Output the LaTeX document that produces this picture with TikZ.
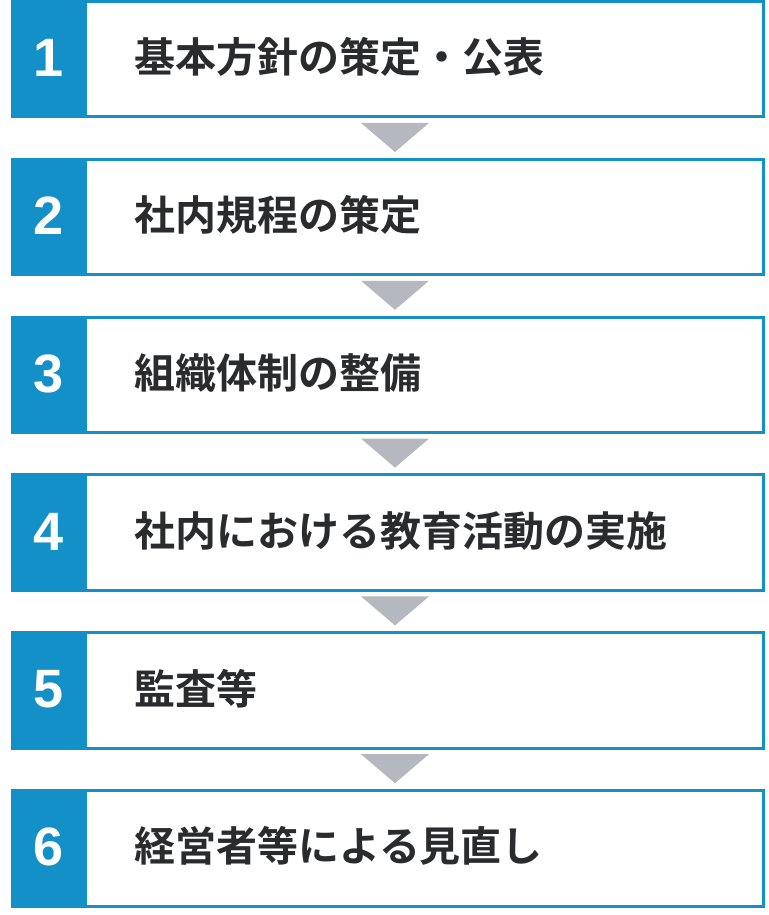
\documentclass[tikz,border=0pt]{standalone}
\usepackage{fontspec}
\newfontfamily\jpfont{Noto Sans CJK JP}[BoldFont={* Bold}]
\newfontfamily\numfont{Liberation Sans}
\definecolor{stepblue}{HTML}{1490C8}
\definecolor{arrgray}{HTML}{B5B9BF}
\definecolor{txt}{HTML}{2A2B2D}
\begin{document}
\begin{tikzpicture}[x=1pt,y=-1pt,
  frame/.style={draw=stepblue,line width=3pt,fill=white},
  numbox/.style={fill=stepblue},
  numtext/.style={text=white,font=\numfont\bfseries\fontsize{54}{56}\selectfont,anchor=center,inner sep=0pt},
  label/.style={text=txt,font=\jpfont\bfseries\fontsize{41}{44}\selectfont,anchor=west,inner sep=0pt},
  arrowtri/.style={fill=arrgray}]
\useasboundingbox (0,0) rectangle (768,915);
\foreach \i/\t [count=\k from 0] in {1/基本方針の策定・公表,2/社内規程の策定,3/組織体制の整備,4/社内における教育活動の実施,5/監査等,6/経営者等による見直し}{
  \pgfmathsetmacro{\top}{1.5+157.8*\k}
  \pgfmathsetmacro{\bot}{\top+115.5}
  \pgfmathsetmacro{\mid}{\top+57.75}
  \draw[frame] (12.5,\top) rectangle (763.5,\bot);
  \fill[numbox] (11,\top-1.5) rectangle (87,\bot+1.5);
  \node[numtext] (n\i) at (49,\mid-1) {\i};
  \node[label] (t\i) at (134,\mid-2) {\t};
}
\foreach \k in {0,...,4}{
  \pgfmathsetmacro{\ty}{123+157.8*\k}
  \fill[arrowtri] (361,\ty) -- (429,\ty) -- (395,\ty+29) -- cycle;
}
\end{tikzpicture}
\end{document}
